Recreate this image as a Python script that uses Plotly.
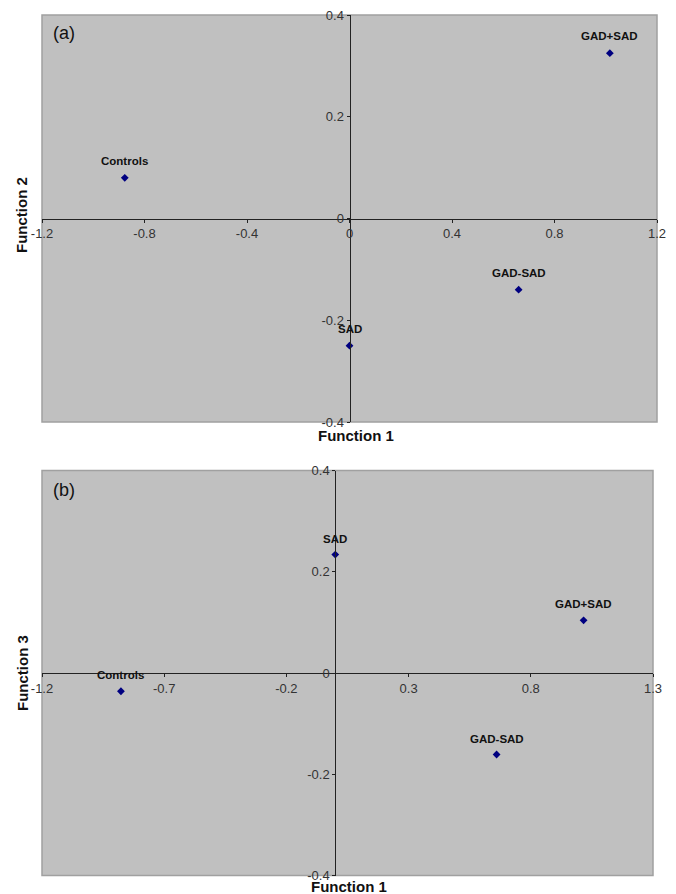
import plotly.graph_objects as go

groups = ["Controls", "SAD", "GAD-SAD", "GAD+SAD"]
function1 = [-0.877, 0.0, 0.66, 1.016]
function2 = [0.080, -0.250, -0.140, 0.325]
function3 = [-0.036, 0.234, -0.161, 0.104]

xa_range = [-1.2, 1.2]
xb_range = [-1.2, 1.3]
y_range = [-0.4, 0.4]

OFF = 8  # page body margin
W, H = 676 - OFF, 894 - OFF


def px(x):
    return (x - OFF) / W


def py(y):
    return 1 - (y - OFF) / H


dom_xa = [px(42), px(657)]
dom_ya = [py(422), py(15)]
dom_xb = [px(42), px(653)]
dom_yb = [py(875.5), py(470.5)]


def zero_pos(dom, rng):
    return dom[0] + (0 - rng[0]) / (rng[1] - rng[0]) * (dom[1] - dom[0])


fig = go.Figure()
marker = dict(symbol="diamond", size=6, color="#000080")
fig.add_trace(go.Scatter(x=function1, y=function2, mode="markers", marker=marker,
                         xaxis="x", yaxis="y", hoverinfo="text", text=groups))
fig.add_trace(go.Scatter(x=function1, y=function3, mode="markers", marker=marker,
                         xaxis="x2", yaxis="y2", hoverinfo="text", text=groups))

tickfont = dict(family="Liberation Sans, Arial, sans-serif", size=13, color="#333333")
common = dict(showgrid=False, zeroline=False, showline=True, linecolor="#222222",
              linewidth=1, ticks="outside", ticklen=3, tickcolor="#222222",
              tickfont=tickfont, anchor="free", automargin=False,
              ticklabeloverflow="allow")

fig.update_layout(
    width=W, height=H,
    margin=dict(l=0, r=0, t=0, b=0),
    paper_bgcolor="white",
    plot_bgcolor="#C0C0C0",
    showlegend=False,
    xaxis=dict(domain=dom_xa, range=xa_range, tickvals=[-1.2, -0.8, -0.4, 0, 0.4, 0.8, 1.2],
               ticktext=["-1.2", "-0.8", "-0.4", "0", "0.4", "0.8", "1.2"],
               position=zero_pos(dom_ya, y_range), **common),
    yaxis=dict(domain=dom_ya, range=y_range, tickvals=[-0.4, -0.2, 0, 0.2, 0.4],
               ticktext=["-0.4", "-0.2", "0", "0.2", "0.4"],
               position=zero_pos(dom_xa, xa_range), **common),
    xaxis2=dict(domain=dom_xb, range=xb_range, tickvals=[-1.2, -0.7, -0.2, 0.3, 0.8, 1.3],
                ticktext=["-1.2", "-0.7", "-0.2", "0.3", "0.8", "1.3"],
                position=zero_pos(dom_yb, y_range), **common),
    yaxis2=dict(domain=dom_yb, range=y_range, tickvals=[-0.4, -0.2, 0, 0.2, 0.4],
                ticktext=["-0.4", "-0.2", "0", "0.2", "0.4"],
                position=zero_pos(dom_xb, xb_range), **common),
)

# plot area borders
for xr, yr in [("x", "y"), ("x2", "y2")]:
    fig.add_shape(type="rect", xref=f"{xr} domain", yref=f"{yr} domain",
                  x0=0, x1=1, y0=0, y1=1, line=dict(color="#A0A0A0", width=1.5),
                  fillcolor="rgba(0,0,0,0)", layer="below")

labfont = dict(family="Liberation Sans, Arial, sans-serif", size=11.5, color="#111111")
for g, x, y in zip(groups, function1, function2):
    fig.add_annotation(x=x, y=y, xref="x", yref="y", text=f"<b>{g}</b>", showarrow=False,
                       yshift=17, font=labfont)
for g, x, y in zip(groups, function1, function3):
    fig.add_annotation(x=x, y=y, xref="x2", yref="y2", text=f"<b>{g}</b>", showarrow=False,
                       yshift=16, font=labfont)

panfont = dict(family="Liberation Sans, Arial, sans-serif", size=18, color="#111111")
fig.add_annotation(x=px(51), y=py(33), xref="paper", yref="paper", text="(a)",
                   showarrow=False, xanchor="left", yanchor="middle", font=panfont)
fig.add_annotation(x=px(51), y=py(490), xref="paper", yref="paper", text="(b)",
                   showarrow=False, xanchor="left", yanchor="middle", font=panfont)

titfont = dict(family="Liberation Sans, Arial, sans-serif", size=15, color="#111111")
axis_titles = [
    ("<b>Function 1</b>", px(356), py(435), 0),
    ("<b>Function 2</b>", px(22), py(215), -90),
    ("<b>Function 1</b>", px(349), py(886), 0),
    ("<b>Function 3</b>", px(22), py(673), -90),
]
for t, x, y, ang in axis_titles:
    fig.add_annotation(x=x, y=y, xref="paper", yref="paper", text=t, showarrow=False,
                       xanchor="center", yanchor="middle", textangle=ang, font=titfont)

fig.write_html("out.html")
